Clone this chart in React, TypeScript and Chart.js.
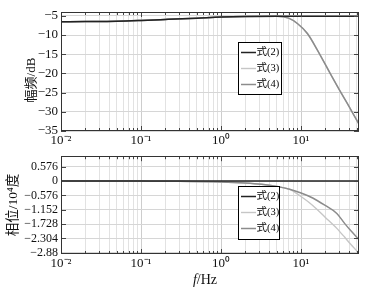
import React, { useEffect, useRef } from "react";
import { Chart, registerables } from "chart.js";

Chart.register(...registerables);

// ---------------- data ----------------
const seriesLabels = ["式(2)", "式(3)", "式(4)"];

const freqMag = [0.01, 0.02, 0.05, 0.1, 0.2, 0.5, 1, 2, 5, 7, 9, 12, 16, 23, 30, 38, 53];
const magEq2 = [-6.55, -6.5, -6.4, -6.2, -5.95, -5.6, -5.3, -5.15, -5.1, -5.1, -5.1, -5.1, -5.1, -5.1, -5.1, -5.1, -5.1];
const magEq3 = [-6.55, -6.5, -6.4, -6.2, -5.95, -5.6, -5.3, -5.15, -5.1, -5.6, -7.0, -9.6, -13.9, -19.9, -24.2, -27.9, -33.2];
const magEq4 = [-6.55, -6.5, -6.4, -6.2, -5.95, -5.6, -5.3, -5.15, -5.1, -5.6, -7.0, -9.6, -13.9, -19.9, -24.2, -27.9, -33.2];

const freqPhase = [0.01, 0.1, 0.15, 0.3, 1, 2, 3.2, 5, 7.2, 10, 14, 20, 28, 35, 42, 53];
const phaseEq2 = [0, 0, 0, 0, 0, 0, 0, 0, 0, 0, 0, 0, 0, 0, 0, 0];
const phaseEq3 = [0, 0, -0.005, -0.01, -0.04, -0.08, -0.13, -0.22, -0.33, -0.62, -0.98, -1.45, -1.9, -2.25, -2.55, -2.9];
const phaseEq4 = [0, 0, -0.005, -0.01, -0.04, -0.08, -0.13, -0.22, -0.33, -0.48, -0.68, -0.98, -1.3, -1.7, -2.0, -2.35];

const magTicks = [-5, -10, -15, -20, -25, -30, -35];
const phaseTicks = [0.576, 0, -0.576, -1.152, -1.728, -2.304, -2.88];
const xMajorTicks = [0.01, 0.1, 1, 10];
const xMajorLabels = ["10\u207B\u00B2", "10\u207B\u00B9", "10\u2070", "10\u00B9"];

// ---------------- styles ----------------
const seriesColors = ["#222222", "#c6c6c6", "#8c8c8c"];
const seriesWidths = [1.5, 1.4, 1.5];
const seriesOrder = [0, 2, 1];
const SERIF = '"Liberation Serif", "Noto Sans CJK SC", serif';

const xGridTicks: number[] = [];
[0.01, 0.1, 1, 10].forEach((d) => {
  for (let m = 1; m <= 9; m++) {
    const v = +(d * m).toPrecision(6);
    if (v <= 53) xGridTicks.push(v);
  }
});

const isMajor = (v: number) => xMajorTicks.some((t) => Math.abs(t - v) / t < 1e-6);

Chart.defaults.font.family = SERIF;
Chart.defaults.color = "#111";

const framePlugin = {
  id: "frame",
  afterDatasetsDraw(chart: any) {
    const { ctx, chartArea: a, scales } = chart;
    ctx.save();
    ctx.strokeStyle = "#444";
    ctx.lineWidth = 1;
    ctx.beginPath();
    scales.x.ticks.forEach((t: any) => {
      const px = Math.round(scales.x.getPixelForValue(t.value)) + 0.5;
      const len = isMajor(t.value) ? 5 : 3;
      ctx.moveTo(px, a.bottom);
      ctx.lineTo(px, a.bottom - len);
      ctx.moveTo(px, a.top);
      ctx.lineTo(px, a.top + len);
    });
    scales.y.ticks.forEach((t: any) => {
      const py = Math.round(scales.y.getPixelForValue(t.value)) + 0.5;
      ctx.moveTo(a.left, py);
      ctx.lineTo(a.left + 5, py);
      ctx.moveTo(a.right, py);
      ctx.lineTo(a.right - 5, py);
    });
    ctx.stroke();
    ctx.strokeStyle = "#333";
    ctx.strokeRect(Math.round(a.left) + 0.5, Math.round(a.top) + 0.5, Math.round(a.right - a.left) - 1, Math.round(a.bottom - a.top) - 1);
    ctx.restore();
  },
};

const boxLegendPlugin = {
  id: "boxLegend",
  afterDatasetsDraw(chart: any, _args: any, opts: any) {
    if (!opts || opts.x === undefined) return;
    const { ctx } = chart;
    ctx.save();
    ctx.fillStyle = "#fff";
    ctx.fillRect(opts.x, opts.y, opts.w, opts.h);
    ctx.strokeStyle = "#000";
    ctx.lineWidth = 1;
    ctx.strokeRect(opts.x + 0.5, opts.y + 0.5, opts.w, opts.h);
    chart.data.datasets.forEach((ds: any, i: number) => {
      const ry = opts.y + opts.rowStart + i * opts.rowGap;
      ctx.strokeStyle = ds.borderColor;
      ctx.lineWidth = ds.borderWidth;
      ctx.beginPath();
      ctx.moveTo(opts.x + 3, ry + 0.5);
      ctx.lineTo(opts.x + 18, ry + 0.5);
      ctx.stroke();
      ctx.fillStyle = "#000";
      ctx.font = "10.5px " + SERIF;
      ctx.textBaseline = "middle";
      ctx.textAlign = "left";
      ctx.fillText(ds.label, opts.x + 18.5, ry);
    });
    ctx.restore();
  },
};

const titlesPlugin = {
  id: "titles",
  afterDraw(chart: any, _args: any, opts: any) {
    if (!opts || !opts.items) return;
    const { ctx } = chart;
    opts.items.forEach((it: any) => {
      ctx.save();
      ctx.translate(it.x, it.y);
      if (it.rotate) ctx.rotate(-Math.PI / 2);
      ctx.textBaseline = "middle";
      ctx.fillStyle = "#111";
      let total = 0;
      it.parts.forEach((p: any) => {
        ctx.font = (p.italic ? "italic " : "") + it.size + "px " + SERIF;
        total += ctx.measureText(p.text).width;
      });
      let cx = -total / 2;
      ctx.textAlign = "left";
      it.parts.forEach((p: any) => {
        ctx.font = (p.italic ? "italic " : "") + it.size + "px " + SERIF;
        ctx.fillText(p.text, cx, 0);
        cx += ctx.measureText(p.text).width;
      });
      ctx.restore();
    });
  },
};

function buildConfig(
  freq: number[],
  series: number[][],
  yTicks: number[],
  yMin: number,
  yMax: number,
  yFont: number,
  padTop: number,
  xAxisHeight: number,
  legend: any,
  titles: any[]
): any {
  return {
    type: "line",
    data: {
      datasets: series.map((vals, i) => ({
        label: seriesLabels[i],
        data: freq.map((f, j) => ({ x: f, y: vals[j] })),
        borderColor: seriesColors[i],
        borderWidth: seriesWidths[i],
        pointRadius: 0,
        fill: false,
        cubicInterpolationMode: "monotone",
        order: seriesOrder[i],
      })),
    },
    options: {
      responsive: false,
      animation: false,
      layout: { padding: { top: padTop, right: 25, left: 0, bottom: 0 } },
      plugins: {
        legend: { display: false },
        tooltip: { enabled: false },
        boxLegend: legend,
        titles: { items: titles },
      },
      scales: {
        x: {
          type: "logarithmic",
          min: 0.01,
          max: 53,
          afterBuildTicks: (scale: any) => {
            scale.ticks = xGridTicks.map((v) => ({ value: v }));
          },
          afterFit: (scale: any) => {
            scale.height = xAxisHeight;
          },
          ticks: {
            autoSkip: false,
            maxRotation: 0,
            minRotation: 0,
            padding: 2,
            font: { size: 13 },
            color: "#111",
            callback: (v: any) => {
              const idx = xMajorTicks.findIndex((t) => Math.abs(t - v) / t < 1e-6);
              return idx >= 0 ? xMajorLabels[idx] : "";
            },
          },
          grid: {
            drawTicks: false,
            color: (c: any) => (c.tick && isMajor(c.tick.value) ? "#cdcdcd" : "#e2e2e2"),
            lineWidth: 1,
          },
          border: { display: false },
        },
        y: {
          type: "linear",
          min: yMin,
          max: yMax,
          afterBuildTicks: (scale: any) => {
            scale.ticks = yTicks.map((v) => ({ value: v }));
          },
          afterFit: (scale: any) => {
            scale.width = 61;
          },
          ticks: {
            autoSkip: false,
            padding: 3,
            font: { size: yFont },
            color: "#111",
            callback: (v: any) => String(v).replace("-", "\u2212"),
          },
          grid: { drawTicks: false, color: "#d6d6d6", lineWidth: 1 },
          border: { display: false },
        },
      },
    },
    plugins: [framePlugin, boxLegendPlugin, titlesPlugin],
  };
}

export default function App() {
  const topRef = useRef<HTMLCanvasElement | null>(null);
  const botRef = useRef<HTMLCanvasElement | null>(null);

  useEffect(() => {
    const top = new Chart(
      topRef.current as HTMLCanvasElement,
      buildConfig(
        freqMag,
        [magEq2, magEq3, magEq4],
        magTicks,
        -35,
        -4,
        13,
        12,
        16,
        { x: 238, y: 42, w: 43, h: 52, rowStart: 10, rowGap: 16 },
        [{ x: 32, y: 80, rotate: true, size: 13, parts: [{ text: "幅频/dB" }] }]
      )
    );
    const bot = new Chart(
      botRef.current as HTMLCanvasElement,
      buildConfig(
        freqPhase,
        [phaseEq2, phaseEq3, phaseEq4],
        phaseTicks,
        -2.93,
        1.0,
        12,
        1,
        43,
        { x: 238, y: 40, w: 41, h: 53, rowStart: 10, rowGap: 16 },
        [
          { x: 13, y: 59, rotate: true, size: 13.5, parts: [{ text: "相位/10\u2074度" }] },
          { x: 205, y: 134, rotate: false, size: 14, parts: [{ text: "f", italic: true }, { text: "/Hz" }] },
        ]
      )
    );
    return () => {
      top.destroy();
      bot.destroy();
    };
  }, []);

  return (
    <div style={{ position: "absolute", left: 0, top: 0, width: 384, height: 297, background: "#fff" }}>
      <canvas ref={topRef} width={384} height={147} style={{ position: "absolute", left: 0, top: 0, display: "block" }} />
      <canvas ref={botRef} width={384} height={151} style={{ position: "absolute", left: 0, top: 146, display: "block" }} />
    </div>
  );
}
